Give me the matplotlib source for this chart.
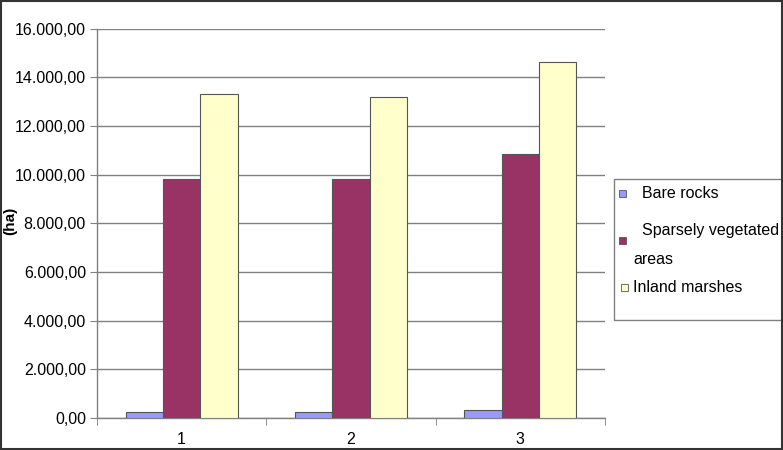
import matplotlib
matplotlib.use("Agg")
import matplotlib.pyplot as plt
from matplotlib.patches import Rectangle
from matplotlib.ticker import FuncFormatter, FixedLocator
import numpy as np

plt.rcParams['font.family'] = ['Liberation Sans', 'DejaVu Sans']

categories = ["1", "2", "3"]
series_names = ["Bare rocks", "Sparsely vegetated", "Inland marshes"]
bare_rocks = [234, 234, 329]
sparsely_vegetated = [9823, 9836, 10863]
inland_marshes = [13329, 13206, 14620]
colors = ["#9999FF", "#993366", "#FFFFCC"]
yticks = [0, 2000, 4000, 6000, 8000, 10000, 12000, 14000, 16000]

W, H = 783, 450
fig = plt.figure(figsize=(W/100, H/100), dpi=100)
ax = fig.add_axes([97/W, 1-418/H, (605-97)/W, (418-28.7)/H])

x = np.arange(len(categories))
w = 0.22
all_series = [bare_rocks, sparsely_vegetated, inland_marshes]
for i, (vals, c, name) in enumerate(zip(all_series, colors, series_names)):
    ax.bar(x + (i-1)*w, vals, width=w, color=c, edgecolor="#555555", linewidth=0.8, label=name, zorder=3)

ax.set_xlim(-0.5, 2.5)
ax.set_ylim(0, 16000)
ax.set_yticks(yticks)

def fmt(v, pos):
    s = f"{v:,.2f}"
    return s.replace(",", "X").replace(".", ",").replace("X", ".")
ax.yaxis.set_major_formatter(FuncFormatter(fmt))
ax.grid(axis="y", color="#808080", linewidth=1, zorder=0)
ax.set_axisbelow(True)

ax.set_xticks(x)
ax.set_xticklabels(categories)
ax.tick_params(axis="x", which="major", length=0, labelsize=11.5, pad=10)
ax.xaxis.set_minor_locator(FixedLocator([-0.5, 0.5, 1.5, 2.5]))
ax.tick_params(axis="x", which="minor", length=5, color="#808080", direction="out")
ax.tick_params(axis="y", length=5, color="#808080", labelsize=11.5, pad=3)

for s in ["top", "right"]:
    ax.spines[s].set_visible(False)
for s in ["left", "bottom"]:
    ax.spines[s].set_color("#808080")
    ax.spines[s].set_linewidth(1)

fig.text(10.5/W, 1-221/H, "(ha)", fontweight="bold", fontsize=11,
         rotation=90, ha="center", va="center")

# legend (drawn manually to match the original layout)
fig.patches.append(Rectangle((614/W, 1-320/H), (790-614)/W, (320-179)/H,
                             transform=fig.transFigure, fill=True, facecolor="white",
                             edgecolor="#808080", linewidth=1))
marker_y = [193, 240, 287]
marker_x = [622.5, 622.5, 624]
for c, mx, my in zip(colors, marker_x, marker_y):
    fig.patches.append(Rectangle(((mx-3.5)/W, 1-(my+3.5)/H), 7/W, 7/H,
                                 transform=fig.transFigure, facecolor=c,
                                 edgecolor="#555555", linewidth=0.6))
fs = 11.5
fig.text(642/W, 1-193/H, series_names[0], fontsize=fs, va="center", ha="left")
fig.text(642/W, 1-231/H, series_names[1], fontsize=fs, va="center", ha="left")
fig.text(633/W, 1-259/H, "areas", fontsize=fs, va="center", ha="left")
fig.text(633/W, 1-287/H, series_names[2], fontsize=fs, va="center", ha="left")

fig.patches.append(Rectangle((0.001, 0.002), 0.998, 0.996, transform=fig.transFigure,
                             fill=False, edgecolor="#333333", linewidth=1.5))

fig.savefig("out.png", dpi=100)
